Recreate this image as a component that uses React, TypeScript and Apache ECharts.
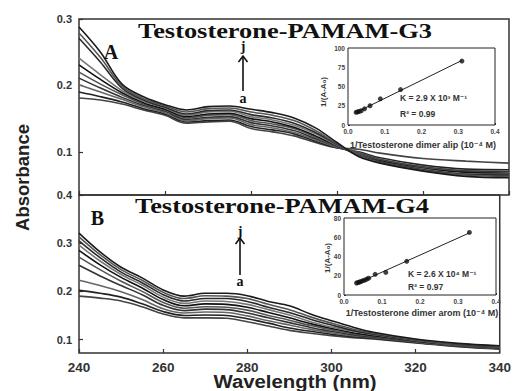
import React, { useEffect, useRef } from "react";
import * as echarts from "echarts";

// Wavelength grid (nm)
const wavelengths = [240, 245, 250, 255, 260, 265, 270, 275, 280, 285, 290, 295, 300, 305, 310, 320, 330, 340];
const curveNames = ["a", "b", "c", "d", "e", "f", "g", "h", "i", "j"];

// Panel A: Testosterone-PAMAM-G3 absorbance curves a..j
const panelA_a = [0.181, 0.178, 0.172, 0.163, 0.155, 0.143, 0.145, 0.146, 0.135, 0.130, 0.124, 0.114, 0.106, 0.104, 0.098, 0.090, 0.086, 0.083];
const panelA_b = [0.190, 0.183, 0.175, 0.165, 0.157, 0.145, 0.147, 0.148, 0.138, 0.133, 0.127, 0.116, 0.106, 0.100, 0.091, 0.080, 0.074, 0.073];
const panelA_c = [0.201, 0.190, 0.179, 0.168, 0.159, 0.147, 0.150, 0.151, 0.141, 0.136, 0.129, 0.118, 0.107, 0.099, 0.089, 0.078, 0.072, 0.071];
const panelA_d = [0.211, 0.196, 0.182, 0.170, 0.161, 0.149, 0.152, 0.153, 0.144, 0.139, 0.132, 0.120, 0.108, 0.098, 0.088, 0.077, 0.071, 0.070];
const panelA_e = [0.220, 0.202, 0.186, 0.172, 0.163, 0.151, 0.155, 0.156, 0.147, 0.142, 0.135, 0.122, 0.108, 0.097, 0.087, 0.076, 0.070, 0.068];
const panelA_f = [0.231, 0.209, 0.189, 0.174, 0.164, 0.153, 0.157, 0.158, 0.150, 0.145, 0.137, 0.124, 0.109, 0.096, 0.086, 0.075, 0.069, 0.067];
const panelA_g = [0.241, 0.216, 0.192, 0.176, 0.166, 0.155, 0.160, 0.161, 0.153, 0.148, 0.140, 0.127, 0.110, 0.096, 0.085, 0.074, 0.067, 0.066];
const panelA_h = [0.271, 0.235, 0.196, 0.178, 0.167, 0.157, 0.162, 0.163, 0.156, 0.151, 0.143, 0.129, 0.111, 0.095, 0.085, 0.073, 0.066, 0.065];
const panelA_i = [0.279, 0.242, 0.199, 0.180, 0.169, 0.160, 0.165, 0.166, 0.160, 0.155, 0.147, 0.132, 0.112, 0.094, 0.084, 0.072, 0.065, 0.063];
const panelA_j = [0.288, 0.250, 0.202, 0.183, 0.171, 0.163, 0.168, 0.169, 0.164, 0.159, 0.151, 0.136, 0.114, 0.093, 0.083, 0.071, 0.063, 0.061];

// Panel B: Testosterone-PAMAM-G4 absorbance curves a..j
const panelB_a = [0.190, 0.186, 0.180, 0.168, 0.153, 0.145, 0.145, 0.144, 0.137, 0.128, 0.119, 0.113, 0.108, 0.104, 0.101, 0.093, 0.085, 0.080];
const panelB_b = [0.202, 0.196, 0.188, 0.174, 0.158, 0.150, 0.151, 0.150, 0.143, 0.134, 0.124, 0.117, 0.111, 0.106, 0.102, 0.094, 0.086, 0.081];
const panelB_c = [0.223, 0.212, 0.199, 0.183, 0.164, 0.155, 0.157, 0.156, 0.149, 0.139, 0.130, 0.121, 0.114, 0.108, 0.104, 0.095, 0.087, 0.081];
const panelB_d = [0.254, 0.232, 0.212, 0.193, 0.171, 0.160, 0.163, 0.162, 0.155, 0.145, 0.135, 0.125, 0.117, 0.110, 0.105, 0.096, 0.087, 0.082];
const panelB_e = [0.271, 0.245, 0.221, 0.200, 0.177, 0.165, 0.168, 0.167, 0.161, 0.150, 0.140, 0.129, 0.120, 0.112, 0.107, 0.097, 0.088, 0.083];
const panelB_f = [0.285, 0.255, 0.229, 0.207, 0.183, 0.170, 0.174, 0.173, 0.167, 0.156, 0.145, 0.133, 0.123, 0.114, 0.108, 0.097, 0.089, 0.083];
const panelB_g = [0.296, 0.263, 0.235, 0.213, 0.188, 0.175, 0.180, 0.179, 0.173, 0.162, 0.151, 0.137, 0.126, 0.117, 0.110, 0.098, 0.089, 0.084];
const panelB_h = [0.305, 0.270, 0.240, 0.218, 0.193, 0.180, 0.185, 0.185, 0.179, 0.167, 0.156, 0.142, 0.130, 0.119, 0.111, 0.099, 0.090, 0.085];
const panelB_i = [0.313, 0.276, 0.245, 0.223, 0.198, 0.185, 0.191, 0.190, 0.185, 0.173, 0.162, 0.147, 0.134, 0.122, 0.113, 0.100, 0.091, 0.086];
const panelB_j = [0.321, 0.282, 0.250, 0.228, 0.203, 0.190, 0.196, 0.196, 0.191, 0.179, 0.170, 0.153, 0.139, 0.126, 0.115, 0.101, 0.092, 0.087];

// Inset A (Benesi-Hildebrand): 1/[dimer alip] vs 1/(A-A0)
const insetA_x = [0.022, 0.026, 0.03, 0.036, 0.045, 0.06, 0.088, 0.143, 0.31];
const insetA_y = [16.5, 17, 17.5, 18.5, 21, 25, 34, 46, 83];
// Inset B: 1/[dimer arom] vs 1/(A-A0)
const insetB_x = [0.033, 0.037, 0.041, 0.045, 0.05, 0.055, 0.06, 0.065, 0.082, 0.11, 0.165, 0.33];
const insetB_y = [12.5, 13, 13.5, 14, 15, 15.5, 16.5, 17.5, 21.5, 23.5, 35, 65];

const mainYTicksA = [0.1, 0.2, 0.3];
const mainYTicksB = [0.1, 0.2, 0.3, 0.4];

const panelA = [panelA_a, panelA_b, panelA_c, panelA_d, panelA_e, panelA_f, panelA_g, panelA_h, panelA_i, panelA_j];
const panelB = [panelB_a, panelB_b, panelB_c, panelB_d, panelB_e, panelB_f, panelB_g, panelB_h, panelB_i, panelB_j];

const lineColors = ["#444", "#222", "#666", "#333", "#555", "#111", "#777", "#2a2a2a", "#555", "#1a1a1a"];

function fitLine(xs: number[], ys: number[]) {
  const n = xs.length;
  const mx = xs.reduce((s, v) => s + v, 0) / n;
  const my = ys.reduce((s, v) => s + v, 0) / n;
  let num = 0, den = 0;
  for (let k = 0; k < n; k++) {
    num += (xs[k] - mx) * (ys[k] - my);
    den += (xs[k] - mx) * (xs[k] - mx);
  }
  const slope = num / den;
  const icpt = my - slope * mx;
  const x0 = Math.min(...xs);
  const x1 = Math.max(...xs);
  return [[x0, icpt + slope * x0], [x1, icpt + slope * x1]];
}

const SANS = "Liberation Sans, Arial, DejaVu Sans, sans-serif";
const SERIF = "Liberation Serif, Times New Roman, DejaVu Serif, serif";

function buildOption() {
  const series: any[] = [];
  panelA.forEach((vals, k) => {
    series.push({
      name: "A-" + curveNames[k],
      type: "line",
      xAxisIndex: 0,
      yAxisIndex: 0,
      smooth: 0.35,
      showSymbol: false,
      lineStyle: { color: lineColors[k], width: 1.6 },
      data: wavelengths.map((w, m) => [w, vals[m]]),
    });
  });
  panelB.forEach((vals, k) => {
    series.push({
      name: "B-" + curveNames[k],
      type: "line",
      xAxisIndex: 1,
      yAxisIndex: 1,
      smooth: 0.35,
      showSymbol: false,
      lineStyle: { color: lineColors[k], width: 1.6 },
      data: wavelengths.map((w, m) => [w, vals[m]]),
    });
  });
  series.push({
    type: "line", xAxisIndex: 2, yAxisIndex: 2, showSymbol: false, z: 5,
    lineStyle: { color: "#222", width: 1 }, data: fitLine(insetA_x, insetA_y),
  });
  series.push({
    type: "scatter", xAxisIndex: 2, yAxisIndex: 2, symbolSize: 5, z: 6,
    itemStyle: { color: "#111" }, data: insetA_x.map((x, k) => [x, insetA_y[k]]),
  });
  series.push({
    type: "line", xAxisIndex: 3, yAxisIndex: 3, showSymbol: false, z: 5,
    lineStyle: { color: "#222", width: 1 }, data: fitLine(insetB_x, insetB_y),
  });
  series.push({
    type: "scatter", xAxisIndex: 3, yAxisIndex: 3, symbolSize: 5, z: 6,
    itemStyle: { color: "#111" }, data: insetB_x.map((x, k) => [x, insetB_y[k]]),
  });

  const mainX = (gi: number, showLabel: boolean) => ({
    gridIndex: gi, type: "value", min: 240, max: 340, interval: 20,
    axisLine: { show: false },
    splitLine: { show: false },
    axisTick: { inside: true, length: 4, lineStyle: { color: "#333", width: 1.2 } },
    axisLabel: {
      show: showLabel, fontSize: 13.5, fontWeight: "bold", color: "#333",
      fontFamily: SANS, margin: 7,
    },
  });
  const mainY = (gi: number, min: number, max: number, ticks: number[]) => ({
    gridIndex: gi, type: "value", min, max,
    axisLine: { show: false },
    splitLine: { show: false },
    axisTick: { inside: true, length: 4, customValues: ticks, lineStyle: { color: "#333", width: 1.2 } },
    axisLabel: {
      customValues: ticks, fontSize: 11, fontWeight: "bold", color: "#333",
      fontFamily: SANS, margin: 7, formatter: (v: number) => v.toFixed(1),
    },
  });
  const insetX = (gi: number) => ({
    gridIndex: gi, type: "value", min: 0, max: 0.4, interval: 0.1,
    axisLine: { show: false }, splitLine: { show: false },
    axisTick: { inside: true, length: 2, lineStyle: { color: "#333" } },
    axisLabel: { fontSize: 6.5, color: "#444", fontWeight: "bold", fontFamily: SANS, margin: 3, formatter: (v: number) => v.toFixed(1) },
  });
  const insetY = (gi: number, max: number, interval: number) => ({
    gridIndex: gi, type: "value", min: 0, max, interval,
    axisLine: { show: false }, splitLine: { show: false },
    axisTick: { inside: true, length: 2, lineStyle: { color: "#333" } },
    axisLabel: { fontSize: 6.5, color: "#444", fontWeight: "bold", fontFamily: SANS, margin: 3 },
  });

  const txt = (x: number, y: number, text: string, opts: any = {}) => ({
    type: "text", x, y, z: 100,
    scaleX: opts.scaleX ?? 1,
    rotation: opts.rotation ?? 0,
    style: {
      text,
      fill: opts.fill ?? "#111",
      fontSize: opts.fontSize ?? 12,
      fontWeight: opts.fontWeight ?? "bold",
      fontFamily: opts.fontFamily ?? SANS,
      align: opts.align ?? "center",
      verticalAlign: "middle",
    },
  });

  const arrow = (x: number, yTop: number, yBot: number) => [
    { type: "line", z: 100, shape: { x1: x, y1: yBot, x2: x, y2: yTop + 1 }, style: { stroke: "#111", lineWidth: 1.6 } },
    { type: "polyline", z: 100, shape: { points: [[x - 4.5, yTop + 6], [x, yTop], [x + 4.5, yTop + 6]] }, style: { stroke: "#111", lineWidth: 1.6, fill: "none" } },
  ];

  const graphic = [
    txt(285, 30, "Testosterone-PAMAM-G3", { fontSize: 22, fontFamily: SERIF, scaleX: 1.2 }),
    txt(282, 205.5, "Testosterone-PAMAM-G4", { fontSize: 22, fontFamily: SERIF, scaleX: 1.2 }),
    txt(111, 51.5, "A", { fontSize: 20, fontFamily: SERIF }),
    txt(97.5, 217.5, "B", { fontSize: 20, fontFamily: SERIF }),
    txt(243, 46, "j", { fontSize: 14, fontFamily: SERIF }),
    txt(243, 98, "a", { fontSize: 14, fontFamily: SERIF }),
    txt(240, 231, "j", { fontSize: 14, fontFamily: SERIF }),
    txt(240, 281, "a", { fontSize: 14, fontFamily: SERIF }),
    ...arrow(243, 56, 91),
    ...arrow(240, 238, 275),
    txt(295, 381.5, "Wavelength (nm)", { fontSize: 18.5, scaleX: 1.1, fill: "#222" }),
    txt(22, 177.5, "Absorbance", { fontSize: 18.5, rotation: Math.PI / 2, fill: "#222" }),
    // inset A annotations
    txt(400, 98, "K = 2.9 X 10³ M⁻¹", { fontSize: 8.5, align: "left", fill: "#333" }),
    txt(400, 113.5, "R² = 0.99", { fontSize: 8.5, align: "left", fill: "#333" }),
    txt(423, 145, "1/Testosterone dimer alip (10⁻⁴ M)", { fontSize: 9, fill: "#333" }),
    txt(323, 92, "1/(A-A₀)", { fontSize: 8, rotation: Math.PI / 2, fill: "#333" }),
    // inset B annotations
    txt(408, 273.5, "K = 2.6 X 10⁴ M⁻¹", { fontSize: 8.5, align: "left", fill: "#333" }),
    txt(408, 287, "R² = 0.97", { fontSize: 8.5, align: "left", fill: "#333" }),
    txt(422, 313, "1/Testosterone dimer arom (10⁻⁴ M)", { fontSize: 9, fill: "#333" }),
    txt(327, 258, "1/(A-A₀)", { fontSize: 8, rotation: Math.PI / 2, fill: "#333" }),
  ];

  return {
    animation: false,
    backgroundColor: "#fff",
    grid: [
      { left: 79, top: 19, width: 430, height: 176, show: true, borderColor: "#333", borderWidth: 1.5, backgroundColor: "transparent" },
      { left: 79, top: 195, width: 430, height: 158, show: true, borderColor: "#333", borderWidth: 1.5, backgroundColor: "transparent" },
      { left: 348, top: 48, width: 147, height: 77, show: true, borderColor: "#222", borderWidth: 1, backgroundColor: "#fff", z: 3 },
      { left: 344, top: 218, width: 152, height: 77, show: true, borderColor: "#222", borderWidth: 1, backgroundColor: "#fff", z: 3 },
    ],
    xAxis: [mainX(0, false), mainX(1, true), insetX(2), insetX(3)],
    yAxis: [
      mainY(0, 0.035, 0.3, mainYTicksA),
      mainY(1, 0.072, 0.4, mainYTicksB),
      insetY(2, 100, 25),
      insetY(3, 80, 20),
    ],
    series,
    graphic,
  };
}

export default function App() {
  const ref = useRef<HTMLDivElement>(null);
  useEffect(() => {
    if (!ref.current) return;
    const chart = echarts.init(ref.current, null, { renderer: "svg" });
    chart.setOption(buildOption() as any);
    return () => chart.dispose();
  }, []);
  return <div ref={ref} style={{ position: "fixed", left: 0, top: 0, width: 514, height: 391 }} />;
}
